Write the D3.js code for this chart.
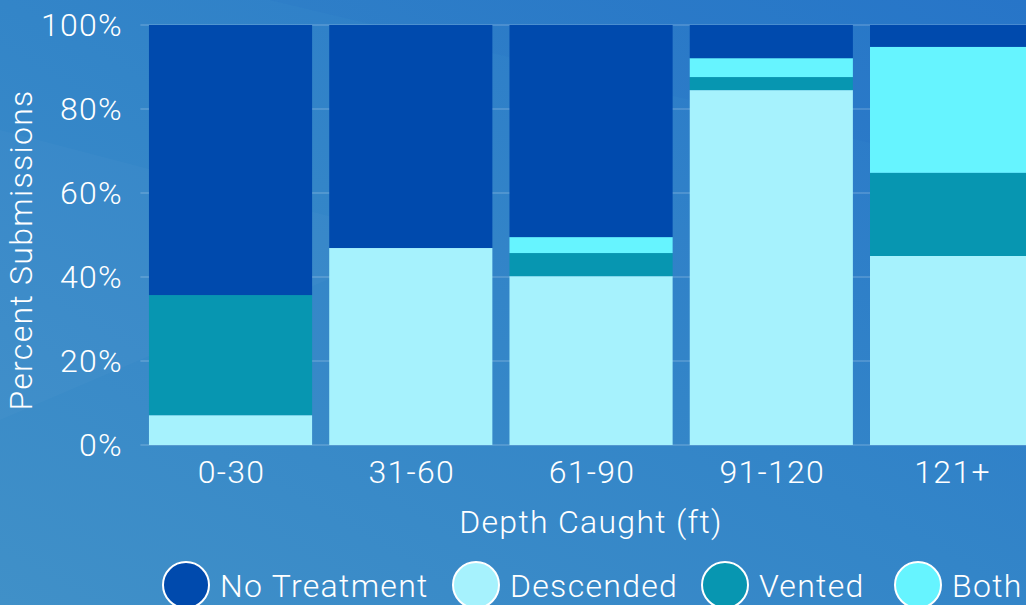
<!DOCTYPE html>
<html>
<head>
<meta charset="utf-8">
<script src="https://cdn.jsdelivr.net/npm/d3@7"></script>
<style>
  html, body { margin: 0; padding: 0; overflow: hidden; }
  svg { display: block; font-family: Roboto, sans-serif; font-weight: 300; }
  svg text { letter-spacing: 1.3px; }
</style>
</head>
<body>
<svg id="chart"></svg>
<script>
const categories = ['0-30', '31-60', '61-90', '91-120', '121+'];
const seriesNames = ['Descended', 'Vented', 'Both', 'No Treatment'];
const descended = [7.1, 46.9, 40.2, 84.5, 45.0];
const vented = [28.6, 0, 5.5, 3.1, 19.8];
const both = [0, 0, 3.8, 4.5, 30.0];
const noTreatment = [64.3, 53.1, 50.5, 7.9, 5.2];
const yTicks = [0, 20, 40, 60, 80, 100];
const legendOrder = ['No Treatment', 'Descended', 'Vented', 'Both'];

const colors = {
  'No Treatment': '#004aad',
  'Descended': '#a6f2fd',
  'Vented': '#0796b1',
  'Both': '#66f4ff'
};

const width = 1026, height = 605;
const margin = { top: 25, left: 140, bottom: 160, right: 0 };
const iheight = height - margin.top - margin.bottom;
const fs = 32;

const svg = d3.select('#chart').attr('width', width).attr('height', height);

// background gradient + soft shapes
const defs = svg.append('defs');
const grad = defs.append('linearGradient').attr('id', 'bg')
  .attr('x1', '0%').attr('y1', '100%').attr('x2', '100%').attr('y2', '0%');
grad.append('stop').attr('offset', '0%').attr('stop-color', '#4090c8');
grad.append('stop').attr('offset', '50%').attr('stop-color', '#3385c8');
grad.append('stop').attr('offset', '100%').attr('stop-color', '#2877c9');
svg.append('rect').attr('width', width).attr('height', height).attr('fill', 'url(#bg)');
svg.append('path').attr('d', 'M0,130 L420,240 L0,420 Z').attr('fill', '#ffffff').attr('opacity', 0.025);
svg.append('path').attr('d', 'M270,0 L1026,0 L1026,180 Z').attr('fill', '#1e6cc6').attr('opacity', 0.12);

const rows = categories.map((c, i) => ({
  cat: c,
  'Descended': descended[i],
  'Vented': vented[i],
  'Both': both[i],
  'No Treatment': noTreatment[i]
}));

const x = d3.scaleBand()
  .domain(categories)
  .range([140.4, 1041.7])
  .paddingInner(0.095)
  .paddingOuter(0.0475);

const y = d3.scaleLinear().domain([0, 100]).range([margin.top + iheight, margin.top]);

// gridlines
svg.append('g').selectAll('line').data(yTicks).join('line')
  .attr('x1', x.range()[0]).attr('x2', width)
  .attr('y1', d => y(d)).attr('y2', d => y(d))
  .attr('stroke', '#ffffff').attr('stroke-opacity', 0.2).attr('stroke-width', 1.5);

const stack = d3.stack().keys(seriesNames)(rows);

svg.append('g').selectAll('g').data(stack).join('g')
  .attr('fill', d => colors[d.key])
  .selectAll('rect').data(d => d).join('rect')
  .attr('x', d => x(d.data.cat))
  .attr('width', x.bandwidth())
  .attr('y', d => y(d[1]))
  .attr('height', d => y(d[0]) - y(d[1]));

// y axis labels
svg.append('g').selectAll('text').data(yTicks).join('text')
  .attr('x', 123).attr('y', d => y(d) + 11)
  .attr('text-anchor', 'end')
  .attr('fill', '#ffffff').attr('font-size', fs)
  .text(d => d + '%');

// x axis labels
svg.append('g').selectAll('text').data(categories).join('text')
  .attr('x', d => x(d) + x.bandwidth() / 2 + 1).attr('y', 483)
  .attr('text-anchor', 'middle')
  .attr('fill', '#ffffff').attr('font-size', fs)
  .text(d => d);

svg.append('text')
  .attr('x', 591).attr('y', 533)
  .attr('text-anchor', 'middle').attr('fill', '#ffffff').attr('font-size', fs)
  .text('Depth Caught (ft)');

svg.append('text')
  .attr('transform', `translate(32, ${y(50) + 15}) rotate(-90)`)
  .attr('text-anchor', 'middle').attr('fill', '#ffffff').attr('font-size', fs)
  .text('Percent Submissions');

// legend
const legendX = [186, 476, 725, 918];
const legend = svg.append('g').selectAll('g').data(legendOrder).join('g')
  .attr('transform', (d, i) => `translate(${legendX[i]}, 585)`);
legend.append('circle').attr('r', 23)
  .attr('fill', d => colors[d]).attr('stroke', '#ffffff').attr('stroke-width', 2);
legend.append('text')
  .attr('x', 34).attr('y', 12)
  .attr('fill', '#ffffff').attr('font-size', fs)
  .text(d => d);
</script>
</body>
</html>
